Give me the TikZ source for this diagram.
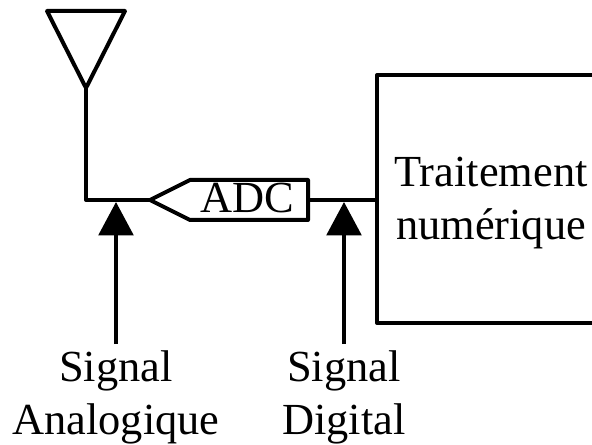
\documentclass[tikz,border=0pt]{standalone}
\usepackage{fontspec}
\setmainfont{Liberation Serif}
\usetikzlibrary{arrows.meta}

\begin{document}
\begin{tikzpicture}
  [x=0.75pt,y=-0.75pt,
   line width=3pt,line join=round,
   txtN/.style={inner sep=0pt,align=center,font=\fontsize{33.3}{39.75}\selectfont},
   lblN/.style={txtN,anchor=north,outer ysep=5pt},
   sigArrow/.style={line width=2.6pt,shorten >=1.5pt,-{Triangle[length=25pt,width=26pt]}},
  ]

 \useasboundingbox (0,0) rectangle (592,445);

 % antenna
 \coordinate (antL) at (47,11);
 \coordinate (antR) at (125,11);
 \coordinate (antB) at (86,88);
 \draw (antL) -- (antR) -- (antB) -- cycle;

 % ADC block
 \node[txtN,anchor=base] (adc) at (247,213) {ADC};
 \coordinate (adcTip) at (150,200);
 \coordinate (adcOut) at (308,200);
 \draw (adcTip) -- (190,180) -- (308,180) -- (308,220) -- (190,220) -- cycle;

 % processing block, open to the right
 \coordinate (dspIn) at (377,200);
 \draw (600,75) -- (377,75) -- (377,323) -- (600,323);
 \node[txtN,anchor=base] (dspA) at (491,187) {Traitement};
 \node[txtN,anchor=base] (dspB) at (491,240) {numérique};

 % wires
 \coordinate (corner) at (86,200);
 \draw (antB) -- (corner) -- (adcTip);
 \draw (adcOut) -- (dspIn);

 % labels and arrows
 \node[lblN] (sigA) at (116,344) {Signal\\Analogique};
 \node[lblN] (sigD) at (344,344) {Signal\\Digital};
 \coordinate (tipA) at (sigA.north |- corner);
 \coordinate (tipD) at (sigD.north |- corner);
 \draw[sigArrow] (sigA.north) -- (tipA);
 \draw[sigArrow] (sigD.north) -- (tipD);
\end{tikzpicture}
\end{document}
